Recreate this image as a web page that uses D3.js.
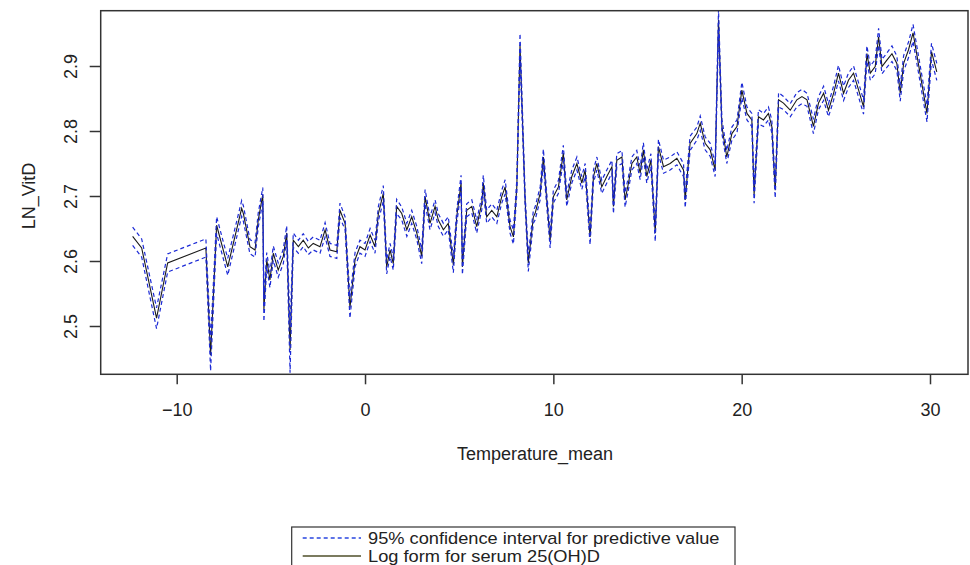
<!DOCTYPE html>
<html>
<head>
<meta charset="utf-8">
<script src="https://cdn.jsdelivr.net/npm/d3@7"></script>
<style>
  body { margin: 0; background: #fff; }
  text { font-family: "Liberation Sans", Arial, sans-serif; fill: #222; }
</style>
</head>
<body>
<div id="Canvas"></div>
<script>
// data
let temperature = [
  -12.34,-11.86,-11.07,-10.48,-8.45,-8.20,-7.88,-7.29,-6.55,-6.46,
  -6.11,-5.84,-5.67,-5.43,-5.37,-5.22,-5.05,-4.87,-4.61,-4.34,
  -4.16,-3.98,-3.81,-3.54,-3.28,-3.01,-2.75,-2.39,-2.12,-1.86,
  -1.50,-1.33,-1.06,-0.80,-0.53,-0.27,0.00,0.27,0.53,0.71,
  0.97,1.15,1.33,1.50,1.68,1.95,2.22,2.48,2.75,3.01,
  3.19,3.45,3.72,3.89,4.16,4.42,4.69,4.87,5.10,5.17,
  5.40,5.67,5.93,6.20,6.28,6.46,6.73,7.00,7.26,7.44,
  7.70,7.88,8.06,8.23,8.50,8.67,8.94,9.03,9.30,9.47,
  9.65,9.83,10.00,10.27,10.53,10.71,10.98,11.25,11.51,11.69,
  11.95,12.13,12.31,12.57,12.84,13.11,13.19,13.37,13.64,13.81,
  13.99,14.17,14.43,14.61,14.78,14.96,15.18,15.41,15.58,15.85,
  16.20,16.56,16.91,17.00,17.26,17.62,17.80,18.06,18.33,18.59,
  18.77,18.95,19.21,19.48,19.75,20.01,20.28,20.54,20.66,20.89,
  21.16,21.42,21.60,21.78,21.96,22.22,22.58,22.93,23.20,23.47,
  23.81,24.08,24.35,24.61,24.88,25.14,25.41,25.67,25.94,26.21,
  26.47,26.65,26.83,27.09,27.27,27.45,27.71,27.98,28.24,28.42,
  28.60,28.86,29.10,29.84,30.08,30.36
]
let lnVitD = [
  2.638,2.620,2.512,2.597,2.620,2.455,2.655,2.591,2.681,2.673,
  2.622,2.617,2.663,2.702,2.525,2.602,2.571,2.612,2.586,2.607,
  2.643,2.463,2.632,2.622,2.632,2.620,2.627,2.622,2.648,2.617,
  2.614,2.678,2.658,2.528,2.602,2.622,2.617,2.640,2.622,2.673,
  2.704,2.591,2.617,2.596,2.684,2.673,2.648,2.668,2.643,2.607,
  2.699,2.658,2.684,2.663,2.648,2.658,2.594,2.668,2.720,2.591,
  2.678,2.684,2.653,2.689,2.720,2.668,2.678,2.668,2.699,2.714,
  2.653,2.637,2.714,2.932,2.694,2.597,2.668,2.673,2.704,2.760,
  2.694,2.632,2.699,2.714,2.766,2.694,2.730,2.750,2.720,2.740,
  2.637,2.730,2.750,2.714,2.730,2.745,2.684,2.755,2.760,2.694,
  2.720,2.750,2.760,2.735,2.771,2.730,2.755,2.643,2.776,2.745,
  2.750,2.758,2.740,2.694,2.781,2.796,2.812,2.781,2.771,2.740,
  2.971,2.807,2.760,2.796,2.807,2.863,2.827,2.817,2.702,2.822,
  2.817,2.827,2.807,2.709,2.848,2.843,2.832,2.848,2.853,2.848,
  2.807,2.843,2.858,2.832,2.858,2.889,2.858,2.878,2.889,2.863,
  2.837,2.919,2.889,2.899,2.945,2.899,2.909,2.919,2.904,2.858,
  2.904,2.925,2.951,2.827,2.922,2.891
]
// half width of the 95% interval at each point
let ciHalf = [
  0.014,0.014,0.016,0.014,0.014,0.024,0.013,0.013,0.012,0.012,
  0.011,0.011,0.011,0.011,0.018,0.011,0.012,0.011,0.011,0.011,
  0.011,0.035,0.011,0.010,0.010,0.010,0.010,0.010,0.011,0.010,
  0.010,0.011,0.010,0.016,0.011,0.010,0.010,0.010,0.010,0.011,
  0.012,0.011,0.010,0.010,0.011,0.010,0.010,0.010,0.010,0.011,
  0.011,0.010,0.010,0.010,0.010,0.010,0.012,0.010,0.012,0.012,
  0.010,0.010,0.010,0.010,0.012,0.010,0.010,0.010,0.010,0.011,
  0.010,0.011,0.011,0.018,0.010,0.013,0.010,0.010,0.010,0.012,
  0.010,0.012,0.010,0.010,0.012,0.010,0.010,0.010,0.010,0.010,
  0.012,0.010,0.010,0.010,0.010,0.010,0.011,0.010,0.010,0.011,
  0.010,0.010,0.010,0.010,0.011,0.010,0.010,0.013,0.011,0.010,
  0.010,0.010,0.010,0.012,0.011,0.010,0.011,0.010,0.010,0.010,
  0.016,0.011,0.010,0.010,0.010,0.012,0.010,0.010,0.013,0.011,
  0.010,0.010,0.010,0.012,0.011,0.010,0.010,0.011,0.011,0.010,
  0.011,0.010,0.011,0.010,0.011,0.012,0.011,0.011,0.011,0.011,
  0.011,0.012,0.011,0.011,0.013,0.011,0.011,0.012,0.011,0.012,
  0.012,0.012,0.013,0.013,0.013,0.013
]
let xTicks = [-10, 0, 10, 20, 30]
let yTicks = [2.5, 2.6, 2.7, 2.8, 2.9]
let legendLabels = ["95% confidence interval for predictive value", "Log form for serum 25(OH)D"]

let svg = d3.select("#Canvas")
    .append("svg")
    .attr("width", 970)
    .attr("height", 565)

// plot box
let box = {left: 100.7, right: 968, top: 10.7, bottom: 374.3}
let xScale = d3.scaleLinear()
    .domain([-10, 30])
    .range([176.7, 930])
let yScale = d3.scaleLinear()
    .domain([2.5, 2.9])
    .range([326, 66])

let data = temperature.map((t, i) => ({t: t, v: lnVitD[i], h: ciHalf[i]}))

svg.append("clipPath")
    .attr("id", "plotClip")
    .append("rect")
    .attr("x", box.left)
    .attr("y", box.top)
    .attr("width", box.right - box.left)
    .attr("height", box.bottom - box.top)

let plot = svg.append("g").attr("clip-path", "url(#plotClip)")

let fitLine = d3.line().x(d => xScale(d.t)).y(d => yScale(d.v))
let upLine = d3.line().x(d => xScale(d.t)).y(d => yScale(d.v + d.h))
let lowLine = d3.line().x(d => xScale(d.t)).y(d => yScale(d.v - d.h))

plot.append("path")
    .datum(data)
    .attr("d", fitLine)
    .attr("fill", "none")
    .attr("stroke", "#1a1a1a")
    .attr("stroke-width", 1.1)

;[upLine, lowLine].forEach(l => {
    plot.append("path")
        .datum(data)
        .attr("d", l)
        .attr("fill", "none")
        .attr("stroke", "#1c2ad6")
        .attr("stroke-width", 1.2)
        .attr("stroke-dasharray", "4,3")
})

svg.append("rect")
    .attr("x", box.left)
    .attr("y", box.top)
    .attr("width", box.right - box.left)
    .attr("height", box.bottom - box.top)
    .attr("fill", "none")
    .attr("stroke", "#333")
    .attr("stroke-width", 1.5)

// axes
let xAxis = d3.axisBottom(xScale).tickValues(xTicks).tickSize(10).tickFormat(d3.format("d"))
let yAxis = d3.axisLeft(yScale).tickValues(yTicks).tickSize(11).tickFormat(d3.format(".1f"))

let gx = svg.append("g")
    .attr("transform", `translate(0,${box.bottom})`)
    .call(xAxis)
gx.select(".domain").remove()
gx.selectAll("line").attr("stroke", "#333").attr("stroke-width", 1.5)
gx.selectAll("text").attr("font-size", 18).attr("fill", "#222").attr("dy", "0")
    .attr("y", 42)

let gy = svg.append("g")
    .attr("transform", `translate(${box.left},0)`)
    .call(yAxis)
gy.select(".domain").remove()
gy.selectAll("line").attr("stroke", "#333").attr("stroke-width", 1.5)
gy.selectAll("text")
    .attr("font-size", 18)
    .attr("fill", "#222")
    .attr("x", null).attr("dy", null)
    .attr("text-anchor", "middle")
    .attr("transform", "translate(-24,0) rotate(-90)")

svg.append("text")
    .attr("x", 535)
    .attr("y", 460)
    .attr("text-anchor", "middle")
    .attr("font-size", 18)
    .text("Temperature_mean")
svg.append("text")
    .attr("transform", "translate(35,196) rotate(-90)")
    .attr("text-anchor", "middle")
    .attr("font-size", 18)
    .text("LN_VitD")

// legend
let legend = svg.append("g")
legend.append("rect")
    .attr("x", 291.7)
    .attr("y", 527)
    .attr("width", 443.3)
    .attr("height", 60)
    .attr("fill", "#fff")
    .attr("stroke", "#333")
    .attr("stroke-width", 1.2)
legendLabels.forEach((lab, i) => {
    let base = 543.5 + i * 18
    legend.append("line")
        .attr("x1", 302.7).attr("x2", 361)
        .attr("y1", base - 5.5).attr("y2", base - 5.5)
        .attr("stroke", i == 0 ? "#2846e0" : "#4f4f2a")
        .attr("stroke-width", 1.3)
        .attr("stroke-dasharray", i == 0 ? "4,3" : null)
    legend.append("text")
        .attr("transform", `translate(368,${base}) scale(1.14,1)`)
        .attr("font-size", 16)
        .text(lab)
})
</script>
</body>
</html>
